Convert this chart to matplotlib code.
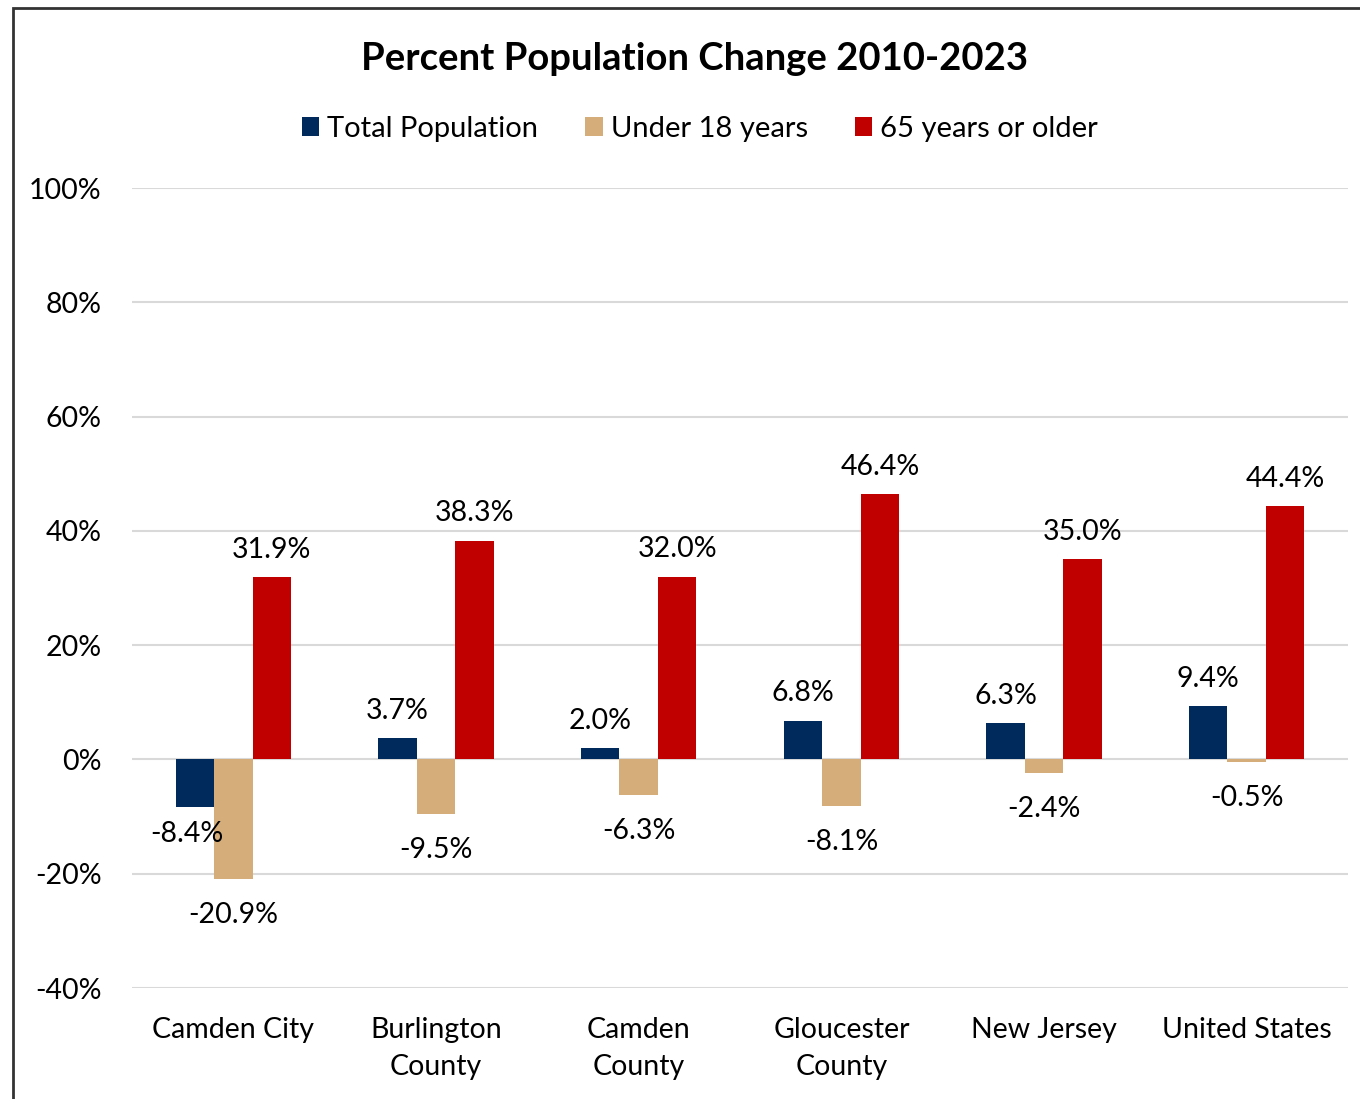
import matplotlib.pyplot as plt
import numpy as np
from matplotlib.patches import Rectangle

categories = ["Camden City", "Burlington\nCounty", "Camden\nCounty", "Gloucester\nCounty", "New Jersey", "United States"]
total_pop = [-8.4, 3.7, 2.0, 6.8, 6.3, 9.4]
under_18 = [-20.9, -9.5, -6.3, -8.1, -2.4, -0.5]
over_65 = [31.9, 38.3, 32.0, 46.4, 35.0, 44.4]
series_names = ["Total Population", "Under 18 years", "65 years or older"]
colors = ["#002A5C", "#D4AD7A", "#C00000"]

plt.rcParams['font.family'] = ['Lato', 'DejaVu Sans']

fig = plt.figure(figsize=(13.6, 10.99), dpi=100)
ax = fig.add_axes([0.0971, 0.1010, 0.8941, 0.7279])

x = np.arange(len(categories))
w = 0.19
for i, (vals, name, c) in enumerate(zip([total_pop, under_18, over_65], series_names, colors)):
    pos = x + (i - 1) * w
    ax.bar(pos, vals, width=w, color=c, label=name, zorder=3)
    for j, (p, v) in enumerate(zip(pos, vals)):
        if v >= 0:
            off = (0, 19.6)
        elif i == 0 and j == 0:
            # this one sits closer, nudged left to clear the tan bar
            off = (-6, -19.3)
        else:
            off = (0, -25.8)
        ax.annotate(f"{v:.1f}%", (p, v), xytext=off, textcoords='offset points',
                    ha='center', va='center', fontsize=20.5, zorder=4)

ax.set_xlim(-0.5, len(categories) - 0.5)
ax.set_ylim(-40, 100)
ax.set_yticks(np.arange(-40, 101, 20))
ax.set_yticklabels([f"{t}%" for t in range(-40, 101, 20)])
ax.yaxis.grid(True, color='#D9D9D9', linewidth=1.5, zorder=0)
ax.set_xticks(x)
ax.set_xticklabels(categories, linespacing=1.5)
ax.tick_params(axis='both', length=0, labelsize=20.5)
ax.tick_params(axis='y', pad=22)
ax.tick_params(axis='x', pad=21)
for s in ax.spines.values():
    s.set_visible(False)

fig.text(0.511, 0.946, "Percent Population Change 2010-2023", ha='center', va='center',
         fontsize=27.5, fontweight='bold')
ax.legend(loc='center', bbox_to_anchor=(0.467, 1.0 + (188 - 129) / (1099 * 0.7279)),
          ncol=3, frameon=False, fontsize=21, handlelength=0.6, handleheight=0.6,
          columnspacing=1.6, handletextpad=0.28)

fig.patches.append(Rectangle((13 / 1360, -0.1), 1.2, 1.1 - 8 / 1099, transform=fig.transFigure,
                             fill=False, edgecolor='#333333', linewidth=2))

fig.savefig("out.png", dpi=100)
